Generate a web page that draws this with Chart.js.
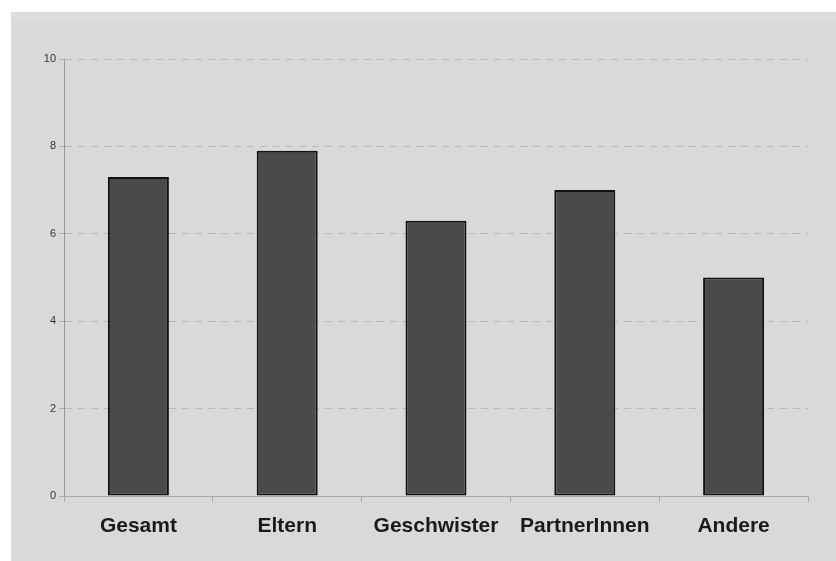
<!DOCTYPE html>
<html>
<head>
<meta charset="utf-8">
<script src="https://cdn.jsdelivr.net/npm/chart.js@4/dist/chart.umd.min.js"></script>
<style>
  html, body { margin: 0; padding: 0; background: #ffffff; }
  #wrap { width: 836px; height: 561px; position: relative; }
</style>
</head>
<body>
<div id="wrap"><canvas id="chartWerte"></canvas></div>
<script>
// categories and values
var kategorien = ['Gesamt', 'Eltern', 'Geschwister', 'PartnerInnen', 'Andere'];
var werte = [7.3, 7.9, 6.3, 7.0, 5.0];
var yTicks = [0, 2, 4, 6, 8, 10];

// grey panel behind the chart (white strip left and top)
const hintergrund = {
    id: 'hintergrund',
    beforeDraw: function (chart) {
        var ctx = chart.ctx;
        ctx.save();
        ctx.fillStyle = '#d9d9d9';
        ctx.fillRect(11, 12, chart.width - 11, chart.height - 12);
        ctx.fillStyle = '#dcdddd'; // leicht hellerer Streifen oben
        ctx.fillRect(11, 12, chart.width - 11, 10);
        ctx.restore();
    }
};

const ctxWerte = document.getElementById('chartWerte').getContext('2d');
new Chart(ctxWerte, {
    type: 'bar',
    data: {
        labels: kategorien,
        datasets: [{
            data: werte,
            backgroundColor: '#4a4a4a',
            borderColor: '#111111',
            borderWidth: 2,
            borderSkipped: false,
            categoryPercentage: 1,
            barPercentage: 0.41
        }]
    },
    options: {
        responsive: true,
        maintainAspectRatio: false,
        animation: false,
        layout: { padding: { top: 59, right: 28, left: 0, bottom: 0 } },
        plugins: {
            legend: { display: false },
            tooltip: { enabled: false }
        },
        scales: {
            y: {
                min: 0,
                max: 10,
                afterFit: function (scale) { scale.width = 64; },
                afterBuildTicks: function (scale) {
                    scale.ticks = yTicks.map(function (v) { return { value: v }; });
                },
                ticks: {
                    color: '#333333',
                    font: { family: 'Liberation Sans', size: 11 },
                    padding: 3
                },
                grid: {
                    color: '#b8b8b8',
                    lineWidth: 1,
                    tickLength: 5,
                    tickColor: '#b0b0b0'
                },
                border: { color: '#999999', width: 1, dash: [7, 6] }
            },
            x: {
                afterFit: function (scale) { scale.height = 65; },
                ticks: {
                    color: '#1a1a1a',
                    font: { family: 'Liberation Sans', size: 21, weight: 'bold' },
                    padding: 12
                },
                grid: {
                    offset: true,
                    drawOnChartArea: false,
                    tickLength: 6,
                    color: '#a8a8a8'
                },
                border: { color: '#a8a8a8', width: 1 }
            }
        }
    },
    plugins: [hintergrund]
});
</script>
</body>
</html>
